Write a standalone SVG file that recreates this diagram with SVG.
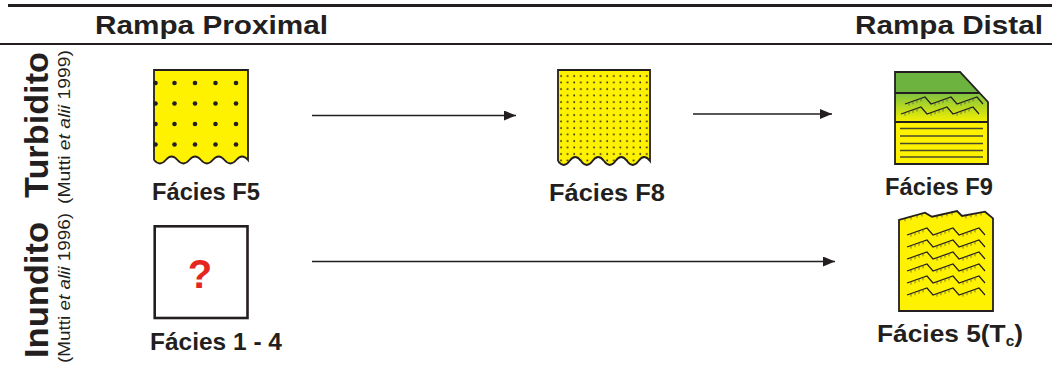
<svg xmlns="http://www.w3.org/2000/svg" width="1052" height="365" viewBox="0 0 1052 365">
<style>
.hdr{font-family:"Liberation Sans",Arial,sans-serif;font-weight:bold;font-size:26px;fill:#231f20}
.lbl{font-family:"Liberation Sans",Arial,sans-serif;font-weight:bold;font-size:24px;fill:#231f20}
.side{font-family:"Liberation Sans",Arial,sans-serif;font-weight:bold;font-size:34px;fill:#231f20}
.ref{font-family:"Liberation Sans",Arial,sans-serif;font-size:16px;fill:#231f20}
.edge{stroke:#231f20;stroke-width:1.8;fill:none;stroke-linejoin:miter}
.conn{stroke:#231f20;stroke-width:1.5;fill:none}
.rip{stroke:#231f20;stroke-width:1.2;fill:none;stroke-linejoin:miter}
.tick{stroke:#5a5a40;stroke-width:0.8;fill:none}
.hl{stroke:#4a4a2a;stroke-width:1.5}
</style>
<defs>
<marker id="ah" markerUnits="userSpaceOnUse" markerWidth="12" markerHeight="10" refX="12" refY="5" orient="auto">
<path d="M0,0 L12,5 L0,10 Z" fill="#231f20"/>
</marker>
<pattern id="dense" patternUnits="userSpaceOnUse" x="558" y="73" width="6.6" height="6.5">
<circle cx="3" cy="3" r="0.95" fill="#231f20"/>
</pattern>
<linearGradient id="gy" x1="0" y1="93" x2="0" y2="122" gradientUnits="userSpaceOnUse">
<stop offset="0" stop-color="#7cc242"/>
<stop offset="1" stop-color="#f4f000"/>
</linearGradient>
<g id="ripple">
<path class="rip" d="M0,0 L20,-7 L26,0 L46,-7 L52,0 L72,-7 L78,0"/>
<path class="tick" d="M4,-1.4v3 M8,-2.8v3 M12,-4.2v3 M16,-5.6v3 M30,-1.4v3 M34,-2.8v3 M38,-4.2v3 M42,-5.6v3 M56,-1.4v3 M60,-2.8v3 M64,-4.2v3 M68,-5.6v3"/>
</g>
</defs>

<rect width="1052" height="365" fill="#ffffff"/>

<g id="header">
<line x1="8" y1="5.5" x2="1052" y2="5.5" stroke="#231f20" stroke-width="3"/>
<line x1="0" y1="44" x2="1052" y2="44" stroke="#231f20" stroke-width="2"/>
<text class="hdr" x="95" y="34" textLength="233" lengthAdjust="spacingAndGlyphs">Rampa Proximal</text>
<text class="hdr" x="855" y="34" textLength="188" lengthAdjust="spacingAndGlyphs">Rampa Distal</text>
</g>

<g id="row-labels">
<text class="side" transform="translate(48,125) rotate(-90)" text-anchor="middle" textLength="146" lengthAdjust="spacingAndGlyphs">Turbidito</text>
<text class="ref" transform="translate(69.5,127) rotate(-90)" text-anchor="middle" textLength="154" lengthAdjust="spacingAndGlyphs">(Mutti <tspan font-style="italic">et alii</tspan> 1999)</text>
<text class="side" transform="translate(48,290) rotate(-90)" text-anchor="middle" textLength="136" lengthAdjust="spacingAndGlyphs">Inundito</text>
<text class="ref" transform="translate(69.5,288) rotate(-90)" text-anchor="middle" textLength="150" lengthAdjust="spacingAndGlyphs">(Mutti <tspan font-style="italic">et alii</tspan> 1996)</text>
</g>

<g id="connectors">
<line class="conn" x1="312" y1="115.5" x2="516" y2="115.5" marker-end="url(#ah)"/>
<line class="conn" x1="693" y1="114" x2="832" y2="114" marker-end="url(#ah)"/>
<line class="conn" x1="312" y1="261.5" x2="835" y2="261.5" marker-end="url(#ah)"/>
</g>

<g id="facies-f5">
<path d="M154,70 L248,70 L248,160 q-5.875,-7 -11.75,0 t-11.75,0 t-11.75,0 t-11.75,0 t-11.75,0 t-11.75,0 t-11.75,0 t-11.75,0 Z" fill="#fff200"/>
<g fill="#231f20">
<circle cx="155.5" cy="83" r="2.3"/><circle cx="174.5" cy="83" r="2.3"/><circle cx="195" cy="83" r="2.3"/><circle cx="215.5" cy="83" r="2.3"/><circle cx="236" cy="83" r="2.3"/>
<circle cx="155.5" cy="103.5" r="2.3"/><circle cx="174.5" cy="103.5" r="2.3"/><circle cx="195" cy="103.5" r="2.3"/><circle cx="215.5" cy="103.5" r="2.3"/><circle cx="236" cy="103.5" r="2.3"/>
<circle cx="155.5" cy="124" r="2.3"/><circle cx="174.5" cy="124" r="2.3"/><circle cx="195" cy="124" r="2.3"/><circle cx="215.5" cy="124" r="2.3"/><circle cx="236" cy="124" r="2.3"/>
<circle cx="155.5" cy="144.5" r="2.3"/><circle cx="174.5" cy="144.5" r="2.3"/><circle cx="195" cy="144.5" r="2.3"/><circle cx="215.5" cy="144.5" r="2.3"/><circle cx="236" cy="144.5" r="2.3"/>
</g>
<path class="edge" d="M154,160 L154,70 L248,70 L248,160 q-5.875,-7 -11.75,0 t-11.75,0 t-11.75,0 t-11.75,0 t-11.75,0 t-11.75,0 t-11.75,0 t-11.75,0"/>
<text class="lbl" x="152" y="200" textLength="108" lengthAdjust="spacingAndGlyphs">Fácies F5</text>
</g>

<g id="facies-f8">
<path d="M558,70 L650,70 L650,161 q-5.75,-8 -11.5,0 t-11.5,0 t-11.5,0 t-11.5,0 t-11.5,0 t-11.5,0 t-11.5,0 t-11.5,0 Z" fill="#fff200"/>
<path d="M558,70 L650,70 L650,161 q-5.75,-8 -11.5,0 t-11.5,0 t-11.5,0 t-11.5,0 t-11.5,0 t-11.5,0 t-11.5,0 t-11.5,0 Z" fill="url(#dense)"/>
<path class="edge" d="M558,161 L558,70 L650,70 L650,161 q-5.75,-8 -11.5,0 t-11.5,0 t-11.5,0 t-11.5,0 t-11.5,0 t-11.5,0 t-11.5,0 t-11.5,0"/>
<text class="lbl" x="549" y="201" textLength="116" lengthAdjust="spacingAndGlyphs">Fácies F8</text>
</g>

<g id="facies-f9">
<polygon points="895,72 960,72 979.6,93 895,93" fill="#6db33f"/>
<polygon points="895,93 979.6,93 988,102 988,122 895,122" fill="url(#gy)"/>
<rect x="895" y="122" width="93" height="42" fill="#fff200"/>
<use href="#ripple" x="905" y="104"/>
<use href="#ripple" x="901" y="114"/>
<g class="hl">
<line x1="900" y1="128.5" x2="983" y2="128.5"/>
<line x1="900" y1="136" x2="983" y2="136"/>
<line x1="900" y1="143.5" x2="983" y2="143.5"/>
<line x1="900" y1="150.5" x2="983" y2="150.5"/>
<line x1="900" y1="157" x2="983" y2="157"/>
</g>
<line x1="895" y1="93" x2="979.6" y2="93" stroke="#231f20" stroke-width="1.8"/>
<line x1="895" y1="122" x2="988" y2="122" stroke="#231f20" stroke-width="1.8"/>
<polygon class="edge" points="895,72 960,72 988,102 988,164 895,164"/>
<text class="lbl" x="885" y="195" textLength="108" lengthAdjust="spacingAndGlyphs">Fácies F9</text>
</g>

<g id="facies-1-4">
<rect x="154.7" y="226.3" width="92.8" height="91.7" fill="#ffffff" stroke="#231f20" stroke-width="2.6"/>
<text x="200" y="288" text-anchor="middle" font-family="Liberation Sans, Arial, sans-serif" font-weight="bold" font-size="40" fill="#e3261f">?</text>
<text class="lbl" x="150" y="350" textLength="132" lengthAdjust="spacingAndGlyphs">Fácies 1 - 4</text>
</g>

<g id="facies-5tc">
<polygon points="899,311 899,220 925,212.7 932,216.7 957,211 962,216 985,211.7 993,218.3 993,311" fill="#fff200"/>
<path class="tick" d="M905,218.3v3 M911,216.6v3 M917,214.9v3 M922,213.5v3 M937,215.6v3 M942,214.4v3 M947,213.3v3 M952,212.1v3 M966,215.3v3 M971,214.4v3 M976,213.4v3 M981,212.4v3"/>
<use href="#ripple" x="907" y="235"/>
<use href="#ripple" x="907" y="247"/>
<use href="#ripple" x="907" y="259"/>
<use href="#ripple" x="907" y="271"/>
<use href="#ripple" x="907" y="283"/>
<use href="#ripple" x="907" y="295"/>
<polygon class="edge" points="899,311 899,220 925,212.7 932,216.7 957,211 962,216 985,211.7 993,218.3 993,311" stroke-width="2"/>
<text class="lbl" x="877" y="342" textLength="146" lengthAdjust="spacingAndGlyphs">Fácies 5(T<tspan font-size="14" dy="4">c</tspan><tspan dy="-4">)</tspan></text>
</g>
</svg>
